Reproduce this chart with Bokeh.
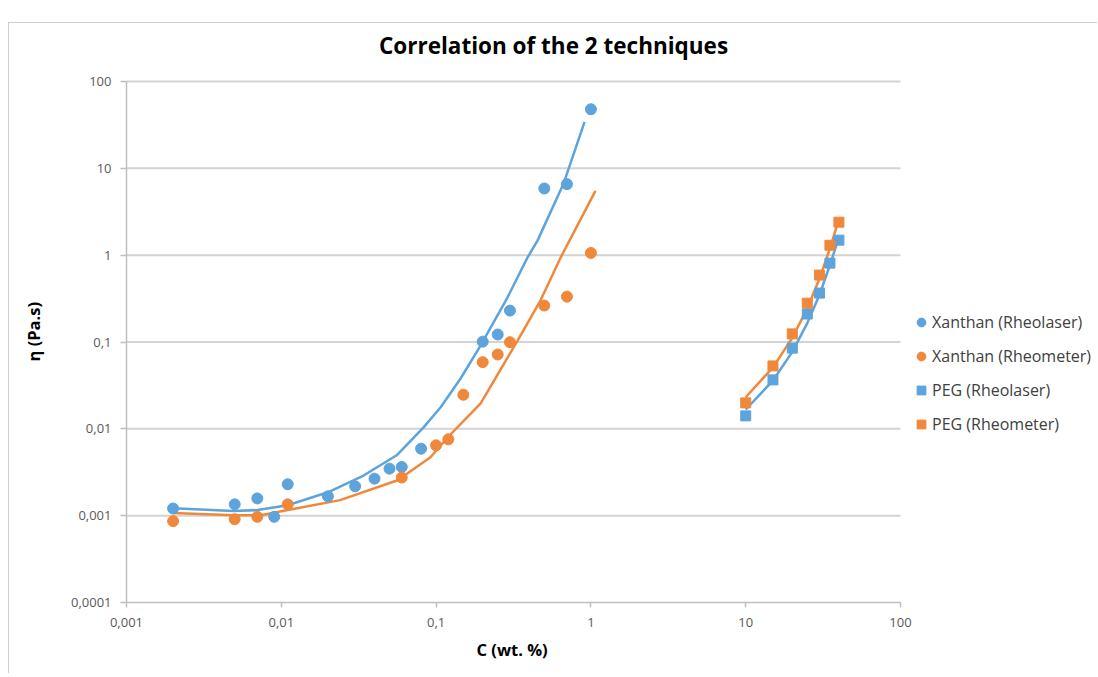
import math
from bokeh.plotting import figure
from bokeh.layouts import row
from bokeh.models import Legend, LegendItem, FixedTicker, CustomJSTickFormatter, Title, Label
from bokeh.embed import file_html
from bokeh.resources import INLINE

BLUE = "#5DA3DC"
ORANGE = "#F0883B"

# Xanthan (Rheolaser) measured points
xan_laser_c = [0.002, 0.005, 0.007, 0.009, 0.011, 0.02, 0.03, 0.04, 0.05, 0.06, 0.08,
               0.2, 0.25, 0.3, 0.5, 0.7, 1.0]
xan_laser_eta = [0.00121, 0.00135, 0.00158, 0.00097, 0.0023, 0.00167, 0.00218, 0.00267,
                 0.00348, 0.00364, 0.0059, 0.101, 0.122, 0.23, 5.86, 6.58, 47.9]

# Xanthan (Rheometer) measured points
xan_rheo_c = [0.002, 0.005, 0.007, 0.011, 0.06, 0.1, 0.12, 0.15, 0.2, 0.25, 0.3, 0.5, 0.7, 1.0]
xan_rheo_eta = [0.000865, 0.00091, 0.00097, 0.00135, 0.00275, 0.00646, 0.00757, 0.0247,
                0.0586, 0.0718, 0.0995, 0.263, 0.333, 1.06]

# PEG points
peg_c = [10, 15, 20, 25, 30, 35, 40]
peg_laser_eta = [0.0141, 0.0366, 0.085, 0.21, 0.366, 0.81, 1.49]
peg_rheo_eta = [0.0199, 0.053, 0.124, 0.28, 0.59, 1.3, 2.4]

# Trend lines
xan_laser_trend_c = [0.002, 0.0049, 0.007, 0.011, 0.02, 0.034, 0.056, 0.083, 0.107, 0.144,
                     0.194, 0.289, 0.389, 0.452, 0.665, 0.91]
xan_laser_trend_eta = [0.00122, 0.00113, 0.00116, 0.00132, 0.00186, 0.0029, 0.005, 0.0104,
                       0.0177, 0.038, 0.0912, 0.325, 0.936, 1.47, 6.63, 34.2]
xan_rheo_trend_c = [0.002, 0.0049, 0.0074, 0.011, 0.024, 0.0564, 0.092, 0.119, 0.194,
                    0.336, 0.472, 0.637, 1.07]
xan_rheo_trend_eta = [0.00107, 0.00101, 0.00101, 0.00116, 0.00151, 0.00256, 0.0047, 0.008,
                      0.0196, 0.104, 0.300, 0.936, 5.51]
peg_laser_trend_eta = [0.0167, 0.036, 0.077, 0.165, 0.35, 0.77, 1.6]
peg_rheo_trend_eta = [0.0231, 0.051, 0.112, 0.245, 0.54, 1.19, 2.6]

x_ticks = [0.001, 0.01, 0.1, 1, 10, 100]
y_ticks = [0.0001, 0.001, 0.01, 0.1, 1, 10, 100]

# plot area extends to the right/top so that legend and title can live inside it
X_END = 1873.0
Y_END = 465.6

# narrow strip holding the vertical axis title
lab = figure(width=40, height=650, x_range=(0, 40), y_range=(0, 650),
             output_backend="svg", toolbar_location=None,
             x_axis_location=None, y_axis_location=None, min_border=0)
lab.outline_line_color = None
lab.grid.grid_line_color = None
lab.add_layout(Label(x=24, y=304, text="η (Pa.s)", angle=math.pi / 2,
                     text_align="center", text_baseline="middle",
                     text_font="Open Sans", text_font_size="16.5px", text_font_style="bold",
                     text_color="#000000"))

p = figure(width=1048, height=650, x_axis_type="log", y_axis_type="log",
           x_range=(x_ticks[0], X_END), y_range=(y_ticks[0], Y_END),
           output_backend="svg", toolbar_location=None,
           min_border_left=77, min_border_right=0, min_border_top=0, min_border_bottom=71)
p.outline_line_color = None
p.background_fill_color = "white"
p.border_fill_color = "white"
p.xgrid.grid_line_color = None
p.ygrid.grid_line_color = None

fmt = CustomJSTickFormatter(code="return String(tick).replace('.', ',');")
for ax, ticks in ((p.xaxis[0], x_ticks), (p.yaxis[0], y_ticks)):
    ax.ticker = FixedTicker(ticks=ticks, minor_ticks=[])
    ax.bounds = (ticks[0], ticks[-1])
    ax.formatter = fmt
    ax.axis_line_color = "#BFBFBF"
    ax.axis_line_width = 1.5
    ax.major_tick_line_color = "#BFBFBF"
    ax.major_tick_line_width = 1.5
    ax.major_tick_in = 0
    ax.minor_tick_line_color = None
    ax.major_label_text_font = "Open Sans"
    ax.major_label_text_font_size = "13px"
    ax.major_label_text_color = "#595959"

p.xaxis.major_tick_out = 5
p.xaxis.major_label_standoff = 10
p.yaxis.major_tick_out = 6
p.yaxis.major_label_standoff = 9

# x axis title
p.add_layout(Title(text="C (wt. %)", align="left", offset=350, standoff=12,
                   text_font="Open Sans", text_font_size="16.5px", text_font_style="bold",
                   text_color="#000000"), "below")

# chart title
p.add_layout(Label(x=0.5735, y=262.0, text="Correlation of the 2 techniques",
                   text_align="center", text_baseline="middle",
                   text_font="Open Sans", text_font_size="22.5px", text_font_style="bold",
                   text_color="#000000"))

# horizontal gridlines between the axis limits
gy = y_ticks[1:]
p.segment(x0=[x_ticks[0]] * len(gy), y0=gy, x1=[x_ticks[-1]] * len(gy), y1=gy,
          line_color="#D3D3D3", line_width=2)

# trend lines
p.line(xan_laser_trend_c, xan_laser_trend_eta, line_color=BLUE, line_width=2.5)
p.line(xan_rheo_trend_c, xan_rheo_trend_eta, line_color=ORANGE, line_width=2.5)
p.line(peg_c, peg_laser_trend_eta, line_color=BLUE, line_width=2.5)
p.line(peg_c, peg_rheo_trend_eta, line_color=ORANGE, line_width=2.5)

r1 = p.scatter(xan_laser_c, xan_laser_eta, marker="circle", size=11, fill_color=BLUE, line_color=BLUE)
r2 = p.scatter(xan_rheo_c, xan_rheo_eta, marker="circle", size=11, fill_color=ORANGE, line_color=ORANGE)
r3 = p.scatter(peg_c, peg_laser_eta, marker="square", size=10, fill_color=BLUE, line_color=BLUE)
r4 = p.scatter(peg_c, peg_rheo_eta, marker="square", size=10, fill_color=ORANGE, line_color=ORANGE)

legend = Legend(items=[
    LegendItem(label="Xanthan (Rheolaser)", renderers=[r1]),
    LegendItem(label="Xanthan (Rheometer)", renderers=[r2]),
    LegendItem(label="PEG (Rheolaser)", renderers=[r3]),
    LegendItem(label="PEG (Rheometer)", renderers=[r4]),
], location=(784, 167))
legend.border_line_color = None
legend.background_fill_alpha = 0
legend.padding = 0
legend.margin = 0
legend.spacing = 12
legend.label_height = 20
legend.glyph_height = 22
legend.glyph_width = 22
legend.label_standoff = -2
legend.label_text_font = "Open Sans"
legend.label_text_font_size = "16px"
legend.label_text_color = "#404040"
p.add_layout(legend)

layout = row(lab, p, spacing=0)
layout.styles = {"margin-top": "22px", "margin-left": "8px",
                 "border-left": "1px solid #cfcfcf", "border-top": "1px solid #cfcfcf"}

open("out.html", "w").write(file_html(layout, INLINE))
